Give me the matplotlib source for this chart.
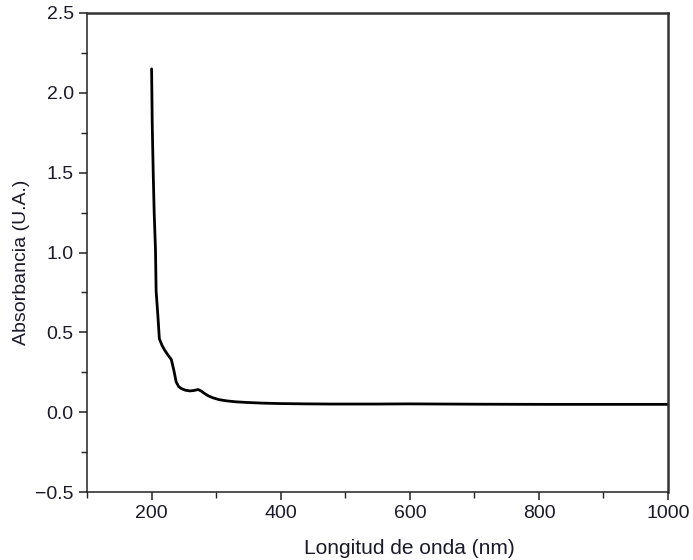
import numpy as np
import matplotlib
matplotlib.use("Agg")
import matplotlib.pyplot as plt
from matplotlib.ticker import MultipleLocator

plt.rcParams['font.family'] = ['Liberation Sans', 'DejaVu Sans']

# spectrum (nm, absorbance)
wavelength = [200, 201, 202.5, 204, 206, 207, 209.8, 212, 216, 220, 225, 230.5,
              234.6, 238, 242, 246, 252, 259, 266, 272, 277, 282, 288, 295,
              305, 316, 330, 347, 370, 398, 440, 476, 550, 600, 700, 800, 900, 1000]
absorbance = [2.15, 1.80, 1.50, 1.25, 1.02, 0.76, 0.60, 0.46, 0.42, 0.39, 0.36, 0.33,
              0.26, 0.19, 0.16, 0.148, 0.138, 0.133, 0.136, 0.142, 0.132, 0.117, 0.102, 0.09,
              0.078, 0.071, 0.065, 0.061, 0.057, 0.054, 0.052, 0.051, 0.051, 0.052, 0.050, 0.049, 0.049, 0.049]

x_ticks = [200, 400, 600, 800, 1000]
y_ticks = [-0.5, 0.0, 0.5, 1.0, 1.5, 2.0, 2.5]

fig = plt.figure(figsize=(6.93, 5.6), dpi=100)
ax = fig.add_axes([0.1256, 0.1214, 0.8384, 0.8554])

ax.plot(wavelength, absorbance, color='black', linewidth=2.0, solid_capstyle='round')

ax.set_xlim(100, 1000)
ax.set_ylim(-0.5, 2.5)
ax.set_xticks(x_ticks)
ax.set_yticks(y_ticks)
ax.set_yticklabels(['\u22120.5', '0.0', '0.5', '1.0', '1.5', '2.0', '2.5'])
ax.xaxis.set_minor_locator(MultipleLocator(100))
ax.yaxis.set_minor_locator(MultipleLocator(0.25))

ax.tick_params(which='both', direction='out', colors='#222222', labelcolor='#1a1a2a',
               labelsize=14, top=False, right=False)
ax.tick_params(which='major', length=6, width=1.1)
ax.tick_params(which='minor', length=4, width=1.0)

for side in ['left', 'bottom']:
    ax.spines[side].set_linewidth(1.1)
    ax.spines[side].set_color('#222222')
for side in ['top', 'right']:
    ax.spines[side].set_linewidth(1.8)
    ax.spines[side].set_color('#333333')

ax.set_xlabel('Longitud de onda (nm)', fontsize=15, color='#1a1a2a')
ax.set_ylabel('Absorbancia (U.A.)', fontsize=14, color='#1a1a2a')
ax.xaxis.set_label_coords(0.554, -0.098)
ax.yaxis.set_label_coords(-0.098, 0.48)

fig.savefig('out.png', dpi=100)
